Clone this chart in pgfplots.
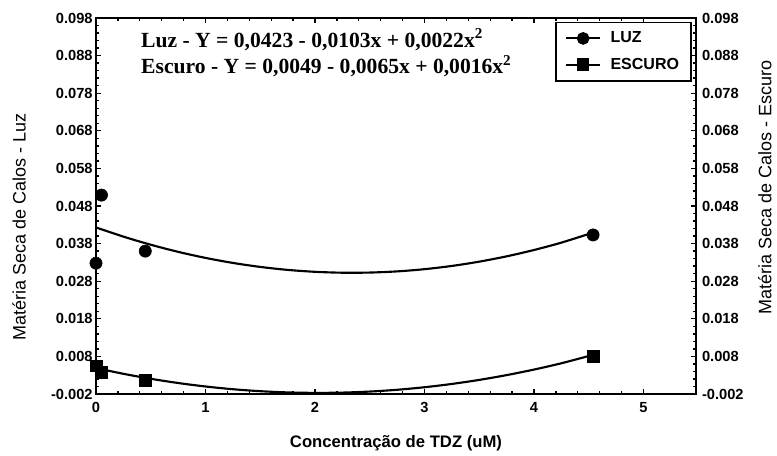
\documentclass[border=0pt]{standalone}
\usepackage{pgfplots}
\pgfplotsset{compat=1.18}
\usepackage{fontspec}
\setmainfont{Liberation Sans}
\newfontfamily\eqfont{Liberation Serif}

% observed means
\pgfplotstableread{
x      y
0      0.0328
0.05   0.0509
0.45   0.0360
4.54   0.0403
}\luzpts
\pgfplotstableread{
x      y
0      0.0055
0.05   0.0038
0.45   0.0017
4.54   0.0080
}\escuropts
% fitted quadratic curves, tabulated
\pgfplotstableread{
x     luz      escuro
0     0.04230  0.004900
0.25  0.03986  0.003375
0.5   0.03770  0.002050
0.75  0.03581  0.000925
1.0   0.03420  0.000000
1.25  0.03286 -0.000725
1.5   0.03180 -0.001250
1.75  0.03101 -0.001575
2.0   0.03050 -0.001700
2.25  0.03026 -0.001625
2.5   0.03030 -0.001350
2.75  0.03061 -0.000875
3.0   0.03120 -0.000200
3.25  0.03206  0.000675
3.5   0.03320  0.001750
3.75  0.03461  0.003025
4.0   0.03630  0.004500
4.25  0.03826  0.006175
4.54  0.04093  0.008414
}\fits

\begin{document}
\begin{tikzpicture}
\useasboundingbox (0,0) rectangle (582.75pt,341.25pt);
\pgfplotsset{
  common/.style={
    at={(72pt,45.75pt)}, anchor=south west,
    scale only axis, width=450pt, height=282pt,
    xmin=0, xmax=5.48, ymin=-0.002, ymax=0.098,
    scaled y ticks=false, scaled x ticks=false,
    ytick={-0.002,0.008,0.018,0.028,0.038,0.048,0.058,0.068,0.078,0.088,0.098},
    yticklabels={-0.002,0.008,0.018,0.028,0.038,0.048,0.058,0.068,0.078,0.088,0.098},
    xtick={0,1,2,3,4,5},
    xticklabels={0,1,2,3,4,5},
    minor x tick num=4, minor y tick num=4,
    tick align=inside,
    major tick length=4pt, minor tick length=2pt,
    axis line style={line width=1.8pt},
    every tick/.style={black, line width=1pt},
    tick label style={font=\fontsize{11}{13}\selectfont\bfseries},
    yticklabel style={xshift=1pt},
    xticklabel style={yshift=-3pt},
  }
}
\begin{axis}[common,
  xlabel={Concentração de TDZ (uM)},
  ylabel={Matéria Seca de Calos - Luz},
  xlabel style={font=\fontsize{12.5}{14}\selectfont\bfseries, yshift=-10pt},
  ylabel style={font=\fontsize{13.5}{15}\selectfont, at={(ticklabel cs:0.445)}, yshift=12pt},
  legend style={at={(0.993,0.99)}, anchor=north east, draw=black, line width=1.2pt,
    font=\fontsize{12}{14}\selectfont\bfseries, row sep=6pt, inner xsep=7pt, inner ysep=5pt,
    /tikz/every odd column/.append style={column sep=5pt}},
  legend image code/.code={%
    \draw[mark repeat=2, mark phase=2, #1] plot coordinates {(0cm,0cm) (0.45cm,0cm) (0.9cm,0cm)};},
  legend cell align=left,
  clip=false,
]
\addlegendimage{black, line width=1.5pt, mark=*, mark size=4pt}
\addlegendentry{LUZ}
\addlegendimage{black, line width=1.5pt, mark=square*, mark size=4pt}
\addlegendentry{ESCURO}
\addplot[black, line width=1.6pt, smooth, forget plot] table[x=x, y=luz] {\fits};
\addplot[black, line width=1.6pt, smooth, forget plot] table[x=x, y=escuro] {\fits};
\addplot[only marks, mark=*, mark size=4.6pt, black, forget plot] table {\luzpts};
\addplot[only marks, mark=square*, mark size=4.4pt, black, forget plot] table {\escuropts};
\node[anchor=north west, align=left, font=\eqfont\fontsize{16.2}{18}\selectfont\bfseries]
  at (axis cs:0.37,0.0964)
  {Luz - Y = 0,0423 - 0,0103x + 0,0022x\textsuperscript{2}\\[2pt]
   Escuro - Y = 0,0049 - 0,0065x + 0,0016x\textsuperscript{2}};
\end{axis}
\begin{axis}[common,
  axis y line*=right, axis x line=none,
  ylabel={Matéria Seca de Calos - Escuro},
  ylabel style={font=\fontsize{13.5}{15}\selectfont, at={(ticklabel cs:0.55)}, yshift=-4pt},
]
\addplot[draw=none] coordinates {(0,0)};
\end{axis}
\end{tikzpicture}
\end{document}
